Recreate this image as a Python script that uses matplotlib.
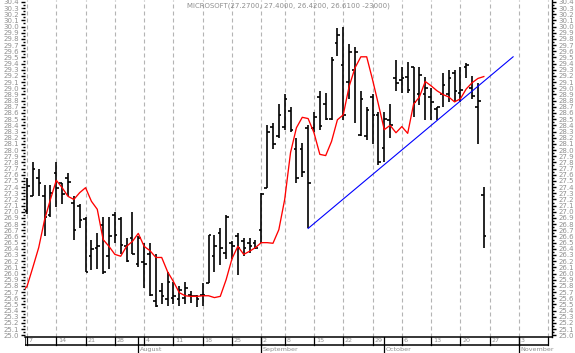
import numpy as np
import pandas as pd
import matplotlib
matplotlib.use('Agg')
import matplotlib.pyplot as plt
from matplotlib.ticker import MultipleLocator, FormatStrFormatter

# trading days shown on the axis (Labor Day is skipped)
days = pd.bdate_range('2003-07-07', '2003-11-10')
days = days[days != pd.Timestamp('2003-09-01')]

opens = [27.02, 27.26, 27.55, 27.25, 26.95, 27.63, 27.47, 27.55, 27.15, 27.10,
         26.89, 26.29, 26.42, 26.78, 26.29, 26.94, 26.89, 26.45, 26.58, 26.16,
         26.18, 26.31, 25.55, 25.71, 25.58, 25.61, 25.58, 25.61, 25.65, 25.63,
         25.66, 25.85, 26.28, 26.65, 26.34, 26.50, 26.60, 26.52, 26.50, 26.49,
         26.70, 27.39, 28.38, 28.22, 28.38, 28.64, 28.02, 28.01, 28.36, 28.36,
         28.86, 28.74, 28.51, 29.74, 29.38, 29.11, 29.30, 28.25, 28.22, 28.86,
         28.57, 28.04, 28.49, 29.17, 29.14, 29.19, 29.35, 28.90, 28.90, 28.86,
         28.67, 28.90, 28.90, 29.25, 28.93, 29.35, 29.01, 28.70, 27.27]
highs = [27.55, 27.80, 27.70, 27.44, 27.44, 27.80, 27.47, 27.62, 27.25, 27.12,
         26.91, 26.55, 26.65, 26.92, 26.92, 27.00, 26.91, 26.57, 26.99, 26.60,
         26.49, 26.50, 26.32, 25.84, 26.02, 25.86, 25.79, 25.87, 25.71, 25.66,
         25.85, 26.63, 26.63, 26.73, 26.95, 26.52, 26.66, 26.58, 26.58, 26.55,
         27.30, 28.40, 28.44, 28.74, 28.91, 28.70, 28.19, 28.12, 28.40, 28.61,
         28.95, 28.93, 29.50, 29.97, 30.00, 29.71, 29.67, 28.95, 28.70, 28.90,
         28.62, 28.62, 28.74, 29.46, 29.35, 29.43, 29.35, 29.35, 29.19, 29.01,
         28.70, 29.25, 29.30, 29.29, 29.35, 29.41, 29.20, 29.09, 27.40]
lows = [26.97, 27.25, 27.25, 26.60, 26.91, 27.07, 27.12, 27.25, 26.55, 26.73,
        26.02, 26.05, 26.07, 26.00, 26.07, 26.50, 26.31, 26.18, 26.31, 26.11,
        25.77, 25.63, 25.45, 25.50, 25.48, 25.50, 25.47, 25.50, 25.53, 25.45,
        25.47, 25.85, 26.02, 26.14, 26.23, 26.23, 25.98, 26.28, 26.34, 26.39,
        26.50, 27.39, 28.01, 28.20, 28.33, 28.30, 27.47, 27.57, 26.73, 28.30,
        28.33, 28.49, 28.49, 29.53, 28.49, 28.82, 28.44, 28.22, 28.17, 28.10,
        27.76, 27.81, 28.20, 28.95, 28.93, 28.93, 28.54, 28.73, 28.49, 28.49,
        28.49, 28.70, 28.78, 28.77, 28.78, 29.17, 28.82, 28.09, 26.42]
closes = [27.41, 27.70, 27.47, 26.91, 27.31, 27.39, 27.28, 27.49, 26.70, 26.87,
          26.03, 26.39, 26.44, 26.02, 26.60, 26.62, 26.47, 26.21, 26.32, 26.57,
          26.16, 25.66, 25.48, 25.63, 25.87, 25.63, 25.74, 25.77, 25.64, 25.58,
          25.65, 26.62, 26.45, 26.42, 26.92, 26.44, 26.42, 26.42, 26.45, 26.42,
          27.28, 28.30, 28.09, 28.57, 28.83, 28.33, 27.54, 27.65, 27.47, 28.53,
          28.39, 28.51, 29.46, 29.87, 28.57, 29.58, 29.59, 28.82, 28.65, 28.56,
          27.80, 28.51, 28.41, 29.09, 29.17, 28.98, 28.78, 29.22, 29.01, 28.77,
          28.69, 29.06, 29.16, 28.95, 28.98, 29.37, 28.88, 28.80, 26.61]

# red average, first point is the day before the first bar
avg = [25.69, 25.79, 26.10, 26.42, 26.87, 27.20, 27.51, 27.39, 27.25, 27.20, 27.31,
       27.39, 27.17, 27.04, 26.55, 26.44, 26.31, 26.28, 26.44, 26.52, 26.65,
       26.44, 26.37, 26.26, 26.26, 26.03, 25.87, 25.69, 25.64, 25.63, 25.63,
       25.64, 25.64, 25.61, 25.63, 25.90, 26.24, 26.44, 26.31, 26.36, 26.42,
       26.50, 26.50, 26.49, 26.71, 27.20, 27.96, 28.36, 28.53, 28.51, 28.28,
       27.93, 27.91, 28.14, 28.49, 28.57, 29.03, 29.33, 29.51, 29.51, 29.14,
       28.74, 28.33, 28.40, 28.28, 28.38, 28.27, 28.74, 28.86, 29.11, 29.04,
       28.96, 28.90, 28.86, 28.78, 28.83, 28.99, 29.09, 29.16, 29.19]

trend_idx = [48, 83]
trend_val = [26.73, 29.51]

title = 'MICROSOFT(27.2700, 27.4000, 26.4200, 26.6100 -23000)'
grey = '#8f8f8f'

W, H = 575, 353
fig = plt.figure(figsize=(W / 100, H / 100), dpi=100)
left, right, band = 25 / W, 552 / W, 16.5 / H
ax = fig.add_axes([left, band, right - left, 1 - band])
axd = fig.add_axes([left, 0, right - left, band])

n = len(opens)
x = np.arange(n)
xlim = (-0.34, 89.64)

# weekly / monthly markers
pos = np.arange(len(days))
week_first = [i for i in pos if i == 0 or days[i].weekday() <= days[i - 1].weekday()]
month_first = [i for i in pos if i > 0 and days[i].month != days[i - 1].month]

for i in week_first:
    ax.axvline(i, color='#b4b4b4', lw=0.8, ls=(0, (3.6, 2.7)), zorder=0)

# OHLC bars
ax.vlines(x, lows, highs, color='black', lw=1.2)
ax.hlines(opens, x - 0.45, x, color='black', lw=1.2)
ax.hlines(closes, x, x + 0.45, color='black', lw=1.2)

ax.plot(np.arange(-1, n), avg, color='#ff0000', lw=0.95)
ax.plot(trend_idx, trend_val, color='#0000ff', lw=0.8)

ax.set_xlim(*xlim)
ax.set_ylim(24.98, 30.43)
ax.set_xticks([])
ax.yaxis.set_major_locator(MultipleLocator(0.1))
ax.yaxis.set_minor_locator(MultipleLocator(0.05))
ax.yaxis.set_major_formatter(FormatStrFormatter('%.1f'))
ax.tick_params(axis='y', which='both', left=True, right=True,
               labelleft=True, labelright=True, labelsize=5,
               labelcolor=grey, color='black', width=1.0, direction='out')
ax.tick_params(axis='y', which='major', length=3.2, pad=1.2)
ax.tick_params(axis='y', which='minor', length=1.6)
for s in ['top', 'left', 'bottom']:
    ax.spines[s].set_visible(False)
ax.spines['right'].set_linewidth(1.0)
ax.text(0.5, 0.992, title, transform=ax.transAxes, ha='center', va='top',
        fontsize=5, color=grey)

# date band below the chart
axd.set_xlim(*xlim)
axd.set_ylim(0, 1)
axd.axis('off')
mid = 0.5
axd.plot(xlim, [1, 1], color='black', lw=1.1, clip_on=False)
axd.plot([xlim[0], week_first[-1]], [mid, mid], color='black', lw=1.1)
axd.plot([xlim[0], xlim[0]], [mid, 1], color='black', lw=1.1)
for k, i in enumerate(week_first):
    axd.plot([i, i], [mid, 1], color='black', lw=0.9)
    if k < len(week_first) - 1:
        axd.text(i + 0.3, 0.76, str(days[i].day), fontsize=4.6, color=grey,
                 ha='left', va='center')
for i in month_first:
    axd.plot([i, i], [0, 1], color='black', lw=0.9)
    axd.text(i + 0.3, 0.22, days[i].strftime('%B'), fontsize=4.6, color=grey,
             ha='left', va='center')

fig.savefig('out.png', dpi=100)
